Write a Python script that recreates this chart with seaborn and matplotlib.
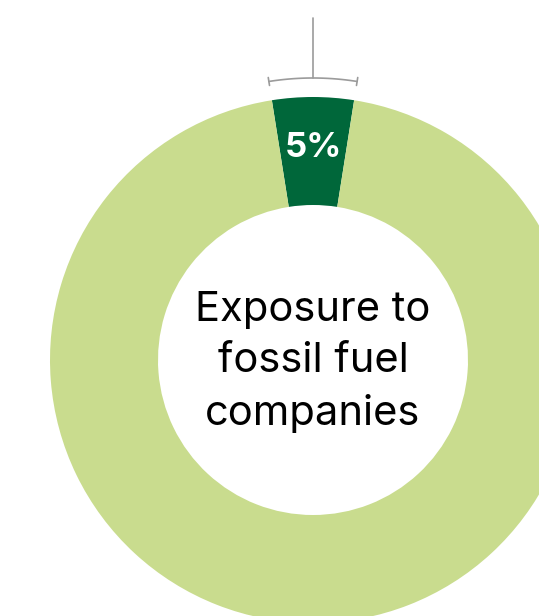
import numpy as np
import seaborn as sns
import matplotlib.pyplot as plt

# chart data
labels = ["Fossil fuel companies", "Other"]
shares = [5, 95]
colors = ["#00673a", "#c9dc8e"]
center_text = "Exposure to\nfossil fuel\ncompanies"

sns.set_theme(style="white")
plt.rcParams['font.family'] = ['Inter', 'DejaVu Sans']

fig = plt.figure(figsize=(5.39, 6.16), dpi=100)
ax = fig.add_axes([0, 0, 1, 1])

cx, cy = 313, 256
r_out, ring = 263, 108

# first slice centred on 12 o'clock
half = shares[0] / sum(shares) * 360 / 2
wedges, _ = ax.pie(
    shares,
    colors=colors,
    startangle=90 - half,
    counterclock=True,
    center=(cx, cy),
    radius=r_out,
    wedgeprops=dict(width=ring, linewidth=0),
    frame=True,
)
ax.set_xlim(0, 539)
ax.set_ylim(0, 616)
ax.set_aspect('equal')
ax.axis('off')

# percentage label inside the dark slice
r_mid = r_out - ring / 2
ax.text(cx, cy + r_mid + 3, f"{shares[0]}%", color="white", fontsize=25,
        fontweight="bold", ha="center", va="center")

# centre caption
ax.text(cx, cy - 2, center_text, color="black", fontsize=30,
        ha="center", va="center", linespacing=1.45)

# bracket above the slice
r_br = r_out + 19
a0, a1 = np.radians(90 - half), np.radians(90 + half)
t = np.linspace(a0, a1, 50)
gray = "#9b9b9b"
ax.plot(cx + r_br * np.cos(t), cy + r_br * np.sin(t), color=gray, lw=1.2)
for a in (a0, a1):
    ax.plot([cx + (r_br - 4) * np.cos(a), cx + (r_br + 4) * np.cos(a)],
            [cy + (r_br - 4) * np.sin(a), cy + (r_br + 4) * np.sin(a)],
            color=gray, lw=1.2)
ax.plot([cx, cx], [cy + r_br, 598], color=gray, lw=1.2)

fig.savefig("out.png", dpi=100)
